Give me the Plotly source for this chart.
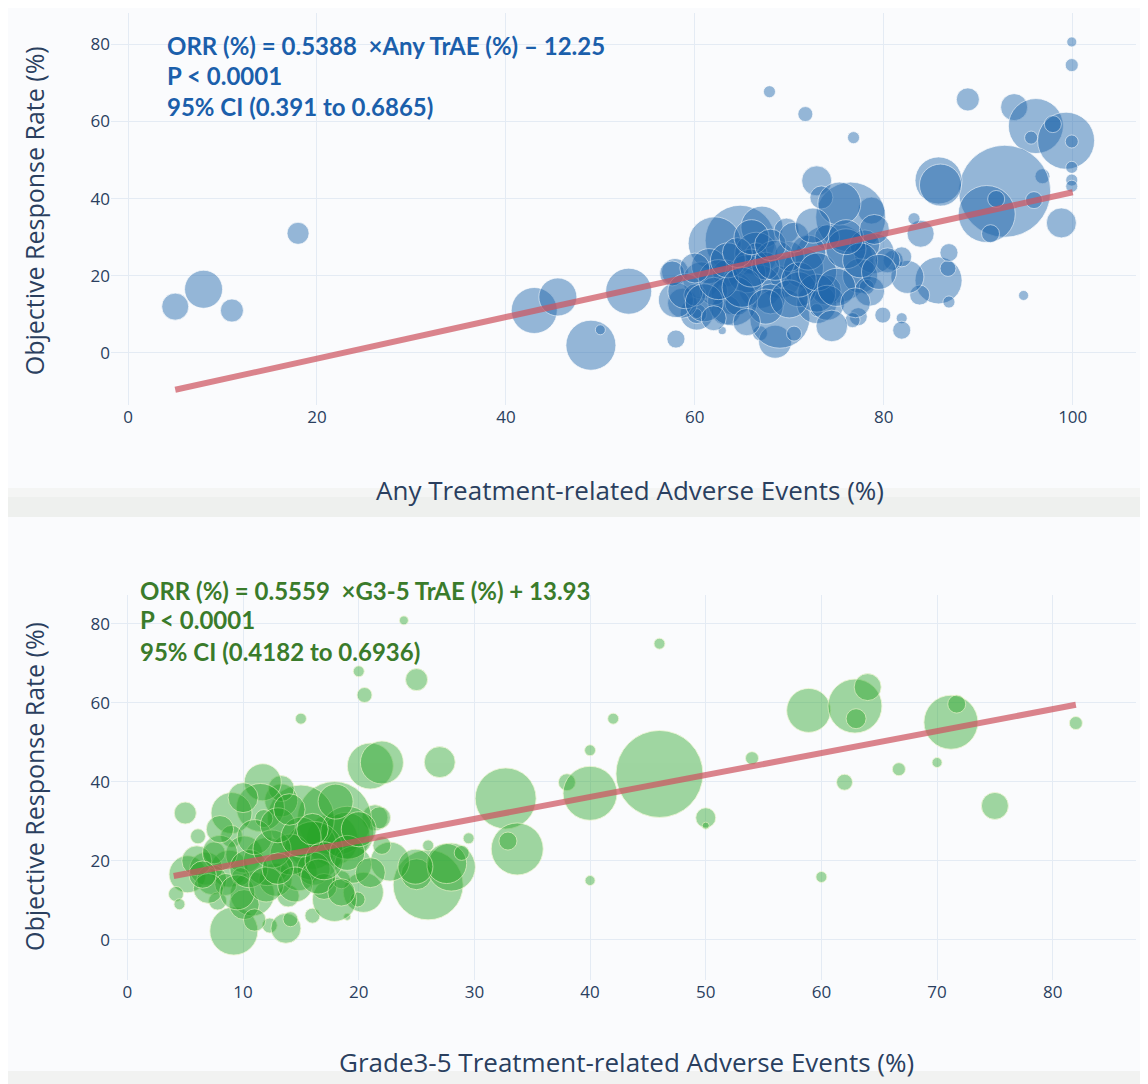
import plotly.graph_objects as go

# ---------------- Panel A: Any TrAE vs ORR ----------------
any_trae = [5, 8, 11, 18, 43, 45.5, 49, 50, 53,
            67.9, 71.7, 76.8, 88.9, 99.9, 99.9, 93.8, 96.1, 99.3, 95.6, 97.9, 99.9, 99.9, 99.9, 99.9, 96.8,
            92.8, 90.9, 91.9, 95.9, 91.3, 98.8, 85.8, 86.0, 94.8, 85.8, 86.8, 86.9, 86.9, 83.8, 83.9,
            83.2, 82.5, 81.0, 81.9, 77.3, 79.9, 81.9, 81.9, 78.7,
            74.7, 76.5, 72.9, 73.4, 64.8, 62.1, 67.1, 69.7, 75.3, 58.0, 62.9, 57.9, 66.9, 68.5,
            60.2, 60.2, 60.2, 58.7, 60.7, 63.3, 66.5, 66.5, 69.0, 69.1, 66.9, 64.0, 63.3, 69.0,
            72.9, 72.9, 73.9, 76.7, 79.0, 80.4, 58.0, 57.6, 61.5, 65.5, 71.5, 70.0, 62.0, 68.0,
            71.0, 77.5, 78.0, 64.5, 67.5, 74.0, 60.0, 70.5, 64.0, 72.9, 78.2,
            59.0, 61.0, 62.5, 63.5, 65.0, 66.0, 67.5, 68.5, 70.0, 71.0, 72.0, 73.0, 74.0, 75.0, 76.0,
            77.5, 78.5, 79.5, 60.0, 64.5, 66.0, 68.0, 70.5, 72.5, 76.0, 79.0, 62.0, 65.5, 74.5, 77.0]
orr_any = [12, 16.5, 11, 31, 11, 14.5, 2, 6, 16,
           67.7, 61.9, 55.8, 65.7, 80.6, 74.6, 63.7, 58.8, 55.0, 55.8, 59.3, 54.8, 48.1, 44.8, 43.2, 45.8,
           41.9, 36.0, 39.9, 39.6, 30.9, 33.7, 44.7, 43.5, 14.9, 18.8, 21.9, 26.0, 13.2, 15.0, 30.9,
           34.8, 19.7, 24.0, 24.9, 9.4, 9.8, 9.0, 5.9, 36.9,
           23.2, 35.2, 44.6, 40.3, 29.2, 28.4, 32.6, 31.7, 38.7, 3.6, 5.8, 21.0, 5.1, 2.9,
           10.2, 10.2, 10.2, 12.9, 18.8, 20.6, 25.7, 25.7, 19.7, 19.7, 17.1, 15.5, 11.1, 9.0,
           12.8, 11.1, 16.3, 8.5, 25.8, 24.0, 13.7, 20.6, 22.5, 20.5, 22.0, 25.0, 16.0, 14.0,
           16.5, 20.0, 28.0, 13.0, 22.5, 30.0, 15.0, 5.0, 13.5, 15.5, 17.1,
           16, 13, 19, 24, 17, 22, 12, 24, 14, 19, 26, 21, 13, 17, 27,
           24, 16, 21, 22, 26, 30, 28, 30, 33, 30, 32, 9, 8, 7, 13]
n_any = [146, 289, 106, 97, 423, 289, 500, 20, 423,
         29, 45, 29, 106, 20, 34, 146, 605, 650, 34, 58, 34, 29, 29, 29, 45,
         1693, 650, 58, 58, 65, 180, 442, 353, 20, 442, 51, 65, 29, 80, 146,
         29, 218, 80, 80, 65, 51, 24, 65, 146,
         1280, 980, 180, 106, 980, 562, 353, 125, 370, 65, 13, 146, 45, 218,
         218, 80, 20, 180, 274, 146, 370, 97, 370, 97, 370, 370, 180, 720,
         320, 34, 180, 45, 320, 125, 245, 125, 245, 289, 320, 180, 157, 180,
         245, 245, 180, 125, 157, 125, 97, 45, 500, 289, 45,
         245, 289, 320, 245, 320, 289, 245, 320, 289, 245, 245, 289, 245, 289, 320,
         245, 180, 245, 180, 180, 245, 200, 180, 245, 245, 180, 125, 150, 200, 180]

# ---------------- Panel B: Grade 3-5 TrAE vs ORR ----------------
g35_trae = [23.9, 20, 20.5, 25, 15, 21, 22, 27, 40, 38, 32.7, 33.7, 32.9, 29.5, 26, 25, 28, 27.6, 28.9,
            22.7, 22, 26, 21.4, 21.8, 20.4, 19.9, 19, 16, 17.9, 17.7, 17.9, 18.9, 16, 15, 13.3, 13.3,
            11.7, 11.5, 9, 5, 6.1, 9, 11.8, 8.8, 10.1, 5.2, 4.2, 4.5, 6.8, 7.3, 7.8, 9.2, 12.3, 13.7,
            14.1, 13.9, 10.8, 10.1, 12.8, 12.1, 14.8, 16.1, 16.1, 17, 18.5, 19.5, 14.1, 7.5, 8.5, 9.8,
            24.9, 19, 46, 42, 40, 46, 54, 50, 50, 40, 60, 58.9, 62.9, 64, 63, 62, 66.7, 70, 71.2, 71.7, 75, 82,
            6, 7, 8, 9.5, 10.5, 11, 12, 12.5, 13, 14.5, 15, 16.5, 17, 18, 19, 20, 14, 10, 8, 6.5,
            11, 18.5, 21, 16, 13]
orr_g35 = [80.9, 68, 62, 65.9, 56, 44, 44.9, 45, 48, 39.9, 35.8, 23, 25, 25.7, 13.9, 16.6, 18.4, 19.3, 22,
           19.8, 23.9, 23.9, 30.9, 30.9, 12, 10.2, 5.8, 6.1, 10.2, 25.3, 30.7, 26.2, 23.9, 30.7, 35.3, 38.3,
           39.9, 33.5, 32.1, 32.1, 26.2, 26.2, 30.7, 18, 21.6, 16.6, 11.6, 9, 18, 15.2, 9.8, 2.2, 3.6, 2.9,
           5.2, 11.1, 11.6, 8.9, 15.2, 19.8, 17.1, 22.5, 18, 13.5, 15.2, 19, 21.6, 22, 14, 16,
           18.5, 27.1, 75, 56, 37.1, 42, 46, 30.9, 28.9, 15, 15.9, 58.1, 59.2, 64, 56, 39.9, 43.2, 44.9, 55.1, 59.7, 33.9, 54.9,
           20, 13, 22, 12, 18, 26, 14, 23, 29, 14, 26, 16, 20, 35, 22, 28, 33, 36, 28, 16.5,
           5, 12, 17, 28, 18]
n_g35 = [16, 24, 45, 97, 24, 423, 370, 192, 24, 58, 744, 541, 65, 24, 980, 192, 461, 320, 45,
         304, 65, 24, 135, 97, 320, 45, 10, 45, 387, 541, 1095, 461, 461, 898, 218, 135,
         274, 461, 336, 97, 45, 97, 65, 274, 274, 274, 45, 24, 218, 180, 65, 461, 45, 180,
         45, 97, 387, 180, 218, 461, 274, 696, 218, 135, 65, 274, 336, 97, 97, 65,
         245, 562, 24, 24, 583, 1514, 34, 80, 10, 20, 24, 387, 583, 146, 80, 51, 34, 20, 583, 65, 146, 34,
         180, 180, 245, 245, 289, 245, 245, 289, 245, 245, 320, 245, 289, 245, 245, 245, 200, 180, 150, 150,
         100, 150, 180, 200, 200]

# Published regression fits
fit_any = {"x": [5, 100], "slope": 0.5388, "intercept": -12.25}
fit_g35 = {"x": [4, 82], "slope": 0.5559, "intercept": 13.93}

x_ticks_any = [0, 20, 40, 60, 80, 100]
x_ticks_g35 = [0, 10, 20, 30, 40, 50, 60, 70, 80]
y_ticks = [0, 20, 40, 60, 80]

BLUE_TXT = "#1b5fab"
GREEN_TXT = "#3a7b2b"
AXIS_TXT = "#2a3f5f"
GRID = "#e4ebf4"
BG = "#fafbfd"
SIZEREF = 0.4

fig = go.Figure()

fig.add_trace(go.Scatter(
    x=any_trae, y=orr_any, mode="markers", xaxis="x", yaxis="y",
    marker=dict(size=n_any, sizemode="area", sizeref=SIZEREF,
                color="rgba(31,101,172,0.66)",
                line=dict(color="rgba(255,255,255,0.7)", width=1)),
    showlegend=False))
fig.add_trace(go.Scatter(
    x=fit_any["x"], y=[fit_any["slope"] * v + fit_any["intercept"] for v in fit_any["x"]],
    mode="lines", xaxis="x", yaxis="y",
    line=dict(color="rgba(205,85,95,0.72)", width=6), showlegend=False))

fig.add_trace(go.Scatter(
    x=g35_trae, y=orr_g35, mode="markers", xaxis="x2", yaxis="y2",
    marker=dict(size=n_g35, sizemode="area", sizeref=SIZEREF,
                color="rgba(40,165,40,0.62)",
                line=dict(color="rgba(235,245,200,0.85)", width=1)),
    showlegend=False))
fig.add_trace(go.Scatter(
    x=fit_g35["x"], y=[fit_g35["slope"] * v + fit_g35["intercept"] for v in fit_g35["x"]],
    mode="lines", xaxis="x2", yaxis="y2",
    line=dict(color="rgba(205,85,95,0.72)", width=6), showlegend=False))

axis_common = dict(showgrid=True, gridcolor=GRID, gridwidth=1, zeroline=False, showline=False,
                   ticks="", tickfont=dict(size=17, color=AXIS_TXT, family="Open Sans"))

eq_font_b = dict(family="Lato", size=24, color=BLUE_TXT)
eq_font_g = dict(family="Lato", size=24, color=GREEN_TXT)
xtitle_font = dict(family="Open Sans", size=26, color=AXIS_TXT)
ytitle_font = dict(family="Open Sans", size=25, color=AXIS_TXT)

annotations = [
    dict(text="<b>ORR (%) = 0.5388  ×Any TrAE (%) – 12.25</b>", x=3.9, y=79.8, xref="x", yref="y",
         xanchor="left", yanchor="middle", showarrow=False, font=eq_font_b),
    dict(text="<b>P < 0.0001</b>", x=3.9, y=71.8, xref="x", yref="y",
         xanchor="left", yanchor="middle", showarrow=False, font=eq_font_b),
    dict(text="<b>95% CI (0.391 to 0.6865)</b>", x=3.9, y=63.8, xref="x", yref="y",
         xanchor="left", yanchor="middle", showarrow=False, font=eq_font_b),
    dict(text="<b>ORR (%) = 0.5559  ×G3-5 TrAE (%) + 13.93</b>", x=0.9, y=0.4033, xref="x2", yref="paper",
         xanchor="left", yanchor="middle", showarrow=False, font=eq_font_g),
    dict(text="<b>P < 0.0001</b>", x=0.9, y=0.3723, xref="x2", yref="paper",
         xanchor="left", yanchor="middle", showarrow=False, font=eq_font_g),
    dict(text="<b>95% CI (0.4182 to 0.6936)</b>", x=0.9, y=0.3402, xref="x2", yref="paper",
         xanchor="left", yanchor="middle", showarrow=False, font=eq_font_g),
    dict(text="Any Treatment-related Adverse Events (%)", x=0.506, y=0.5067, xref="paper", yref="paper",
         xanchor="center", yanchor="middle", showarrow=False, font=xtitle_font),
    dict(text="Grade3-5 Treatment-related Adverse Events (%)", x=0.503, y=-0.0848, xref="paper", yref="paper",
         xanchor="center", yanchor="middle", showarrow=False, font=xtitle_font),
    dict(text="Objective Response Rate (%)", x=-0.0751, y=0.795, xref="paper", yref="paper",
         xanchor="center", yanchor="middle", textangle=-90, showarrow=False, font=ytitle_font),
    dict(text="Objective Response Rate (%)", x=-0.0751, y=0.1996, xref="paper", yref="paper",
         xanchor="center", yanchor="middle", textangle=-90, showarrow=False, font=ytitle_font),
]

shapes = [
    dict(type="rect", xref="paper", yref="paper", x0=-0.11, x1=1.03, y0=0.4788, y1=0.4995,
         fillcolor="#eef0ee", line=dict(width=0), layer="below"),
    dict(type="rect", xref="paper", yref="paper", x0=-0.11, x1=1.03, y0=0.4995, y1=0.5088,
         fillcolor="#f4f5f4", line=dict(width=0), layer="below"),
    dict(type="rect", xref="paper", yref="paper", x0=-0.11, x1=1.03, y0=-0.1076, y1=-0.094,
         fillcolor="#f1f2f1", line=dict(width=0), layer="below"),
]

fig.update_layout(
    width=1148, height=1084, autosize=False,
    margin=dict(l=103, r=20, t=5, b=112),
    paper_bgcolor=BG, plot_bgcolor=BG,
    font=dict(family="Open Sans", color=AXIS_TXT),
    xaxis=dict(domain=[0, 1], anchor="y", range=[-1.8, 106.7], tickvals=x_ticks_any, **axis_common),
    yaxis=dict(domain=[0.5946, 1], anchor="x", range=[-13.5, 88.1], tickvals=y_ticks, **axis_common),
    xaxis2=dict(domain=[0, 1], anchor="y2", range=[-1.42, 87.2], tickvals=x_ticks_g35, **axis_common),
    yaxis2=dict(domain=[0, 0.398], anchor="x2", range=[-10.2, 87.3], tickvals=y_ticks, **axis_common),
    annotations=annotations,
    shapes=shapes,
    showlegend=False,
)

fig.write_html("out.html")
